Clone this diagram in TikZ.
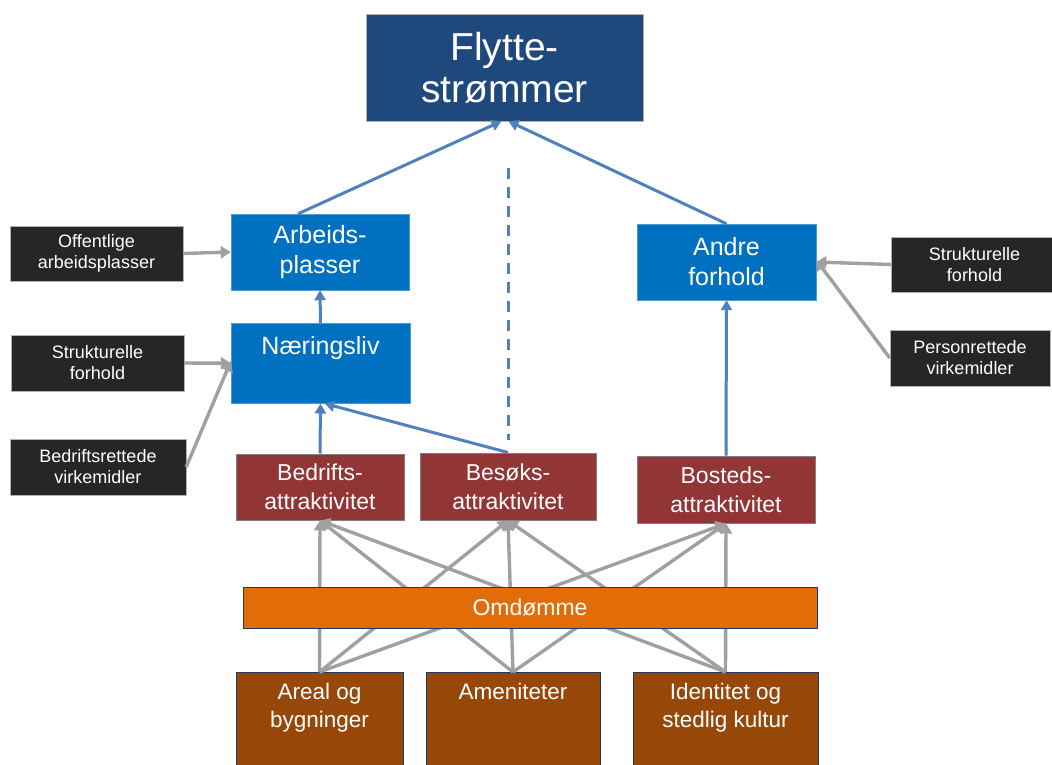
\documentclass[tikz,border=0pt]{standalone}
\usepackage{fontspec}
\setmainfont{Liberation Sans}
\usepackage{tikz}
\usetikzlibrary{arrows.meta}

\definecolor{flytteblue}{HTML}{1F497D}
\definecolor{faktorblue}{HTML}{0070C0}
\definecolor{virkeblack}{HTML}{262626}
\definecolor{attraktred}{HTML}{923535}
\definecolor{omdommeorange}{HTML}{E36C09}
\definecolor{ressursbrown}{HTML}{974707}
\definecolor{kantnavy}{HTML}{1F3864}
\definecolor{lineblue}{HTML}{4F81BD}
\definecolor{linegrey}{HTML}{A0A0A0}

\tikzset{
  boks/.style={rectangle, inner sep=0pt, align=center, text=white},
  flyttboks/.style={boks, fill=flytteblue, draw=gray!60, font=\fontsize{39}{42}\selectfont},
  faktorboks/.style={boks, fill=faktorblue, draw=faktorblue!70!white, font=\fontsize{25}{30}\selectfont},
  virkeboks/.style={boks, fill=virkeblack, draw=gray!60, font=\fontsize{18}{21}\selectfont},
  attraktboks/.style={boks, fill=attraktred, draw=gray, line width=1pt, font=\fontsize{23}{29}\selectfont},
  omdommeboks/.style={boks, fill=omdommeorange, draw=kantnavy, line width=1pt, font=\fontsize{23}{26}\selectfont},
  ressursboks/.style={boks, fill=ressursbrown, draw=kantnavy, line width=1pt, anchor=north,
    inner ysep=11pt, text depth=80pt, font=\fontsize{22.5}{28}\selectfont},
  blapil/.style={draw=lineblue, line width=3pt, -{Triangle[length=10pt, width=11pt]}},
  graapil/.style={draw=linegrey, line width=3.4pt, -{Triangle[length=10pt, width=12pt]}}
}

\begin{document}
\begin{tikzpicture}[x=1pt, y=-1pt]
    \useasboundingbox (0,0) rectangle (1052,765);

    % top
    \node[flyttboks, minimum width=277, minimum height=107] (flytte) at (504.5,67.5) {Flytte-\\strømmer};

    % middle level
    \node[faktorboks, minimum width=178, minimum height=76] (arbeid) at (320,252) {Arbeids-\\plasser};
    \node[faktorboks, minimum width=179, minimum height=75, anchor=north,
          inner ysep=13pt, text depth=36pt] (naering) at (320.5,323) {Næringsliv};
    \node[faktorboks, minimum width=179, minimum height=76] (andre) at (726.5,262) {Andre\\forhold};

    % virkemidler left and right
    \node[virkeboks, minimum width=173, minimum height=55] (offentlig) at (96.5,253.5) {Offentlige\\arbeidsplasser};
    \node[virkeboks, minimum width=173, minimum height=56] (strukv) at (97.5,363) {Strukturelle\\forhold};
    \node[virkeboks, minimum width=176, minimum height=56] (bedrvirk) at (98,467) {Bedriftsrettede\\virkemidler};
    \node[virkeboks, minimum width=167, minimum height=55] (strukh) at (974.5,264.5) {Strukturelle\\forhold};
    \node[virkeboks, minimum width=160, minimum height=56] (persvirk) at (970,358) {Personrettede\\virkemidler};

    % attraktivitet
    \node[attraktboks, minimum width=168, minimum height=66] (bedrifts) at (320,487) {Bedrifts-\\attraktivitet};
    \node[attraktboks, minimum width=176, minimum height=67] (besoks) at (508,486.5) {Besøks-\\attraktivitet};
    \node[attraktboks, minimum width=178, minimum height=67] (bosteds) at (726,489.5) {Bosteds-\\attraktivitet};

    % ressurser at the bottom (cut by the page)
    \node[ressursboks, minimum width=167] (areal) at (319.5,672) {Areal og\\bygninger};
    \node[ressursboks, minimum width=174] (amenitet) at (513,672) {Ameniteter};
    \node[ressursboks, minimum width=185] (identitet) at (725.5,672) {Identitet og\\stedlig kultur};

    % blue arrows
    \draw[blapil] ([xshift=-22pt]arbeid.north) -- ([xshift=-3pt]flytte.south);
    \draw[blapil] (andre.north) -- ([xshift=4pt]flytte.south);
    \draw[blapil] (naering.north) -- (arbeid.south);
    \draw[blapil] (bedrifts.north) -- (naering.south);
    \draw[blapil] (besoks.north) -- ([xshift=4pt]naering.south);
    \draw[blapil] (bosteds.north) -- (andre.south);
    \coordinate (stiplet top) at (508,168);
    \coordinate (stiplet bunn) at (508,440);
    \draw[draw=lineblue, line width=3pt, dash pattern=on 11pt off 8pt] (stiplet top) -- (stiplet bunn);

    % grey arrows
    \draw[graapil] (offentlig.east) -- (arbeid.west);
    \draw[graapil] (strukv.east) -- (naering.west);
    \draw[graapil] (bedrvirk.east) -- ([yshift=2pt]naering.west);
    \draw[graapil] (strukh.west) -- (andre.east);
    \draw[graapil] (persvirk.west) -- ([yshift=2pt]andre.east);

    % every ressurs feeds every attraktivitet
    \foreach \fra in {areal,amenitet,identitet}
      \foreach \til in {bedrifts,besoks,bosteds}
        \draw[graapil] (\fra.north) -- (\til.south);

    % omdomme on top of the lines
    \node[omdommeboks, minimum width=574, minimum height=41] (omdomme) at (530,607.5) {Omdømme};

\end{tikzpicture}
\end{document}
